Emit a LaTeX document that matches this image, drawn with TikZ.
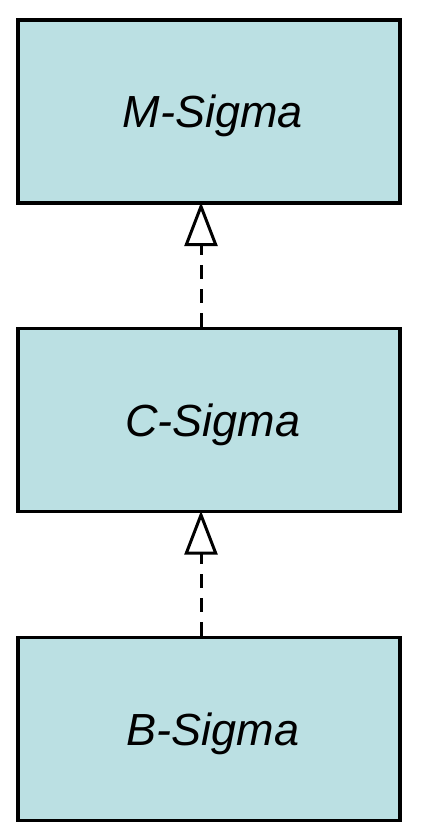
\documentclass[tikz,border=0pt]{standalone}
\usepackage{fontspec}
\setmainfont{Liberation Sans}
\usetikzlibrary{arrows.meta}
\definecolor{SigmaFill}{HTML}{BBE0E3}
\definecolor{SigmaEdge}{HTML}{000000}

\begin{document}
\begin{tikzpicture}[x=0.5pt,y=0.5pt,
    sigmabox/.style={draw=SigmaEdge, fill=SigmaFill, line width=1.6pt, minimum width=191pt, minimum height=91.5pt, inner sep=0pt, text depth=0pt, execute at begin node=\hspace*{4pt}, font=\fontsize{22.5pt}{26pt}\selectfont\itshape},
    realize/.style={draw=SigmaEdge, line width=1.5pt, dash pattern=on 7pt off 5pt, shorten >=-1.2pt, -{Triangle[open, length=22pt, width=16.5pt, line width=1.5pt]}}]
        \useasboundingbox (0,0) rectangle (420,-831);
        \node[sigmabox] (msigma) at (209,-111.5) {M-Sigma};
        \node[sigmabox] (csigma) at (209,-420) {C-Sigma};
        \node[sigmabox] (bsigma) at (209,-729) {B-Sigma};
        \draw[realize] ([xshift=-4pt]csigma.north) -- ([xshift=-4pt]msigma.south);
        \draw[realize] ([xshift=-4pt]bsigma.north) -- ([xshift=-4pt]csigma.south);
      \end{tikzpicture}
\end{document}
